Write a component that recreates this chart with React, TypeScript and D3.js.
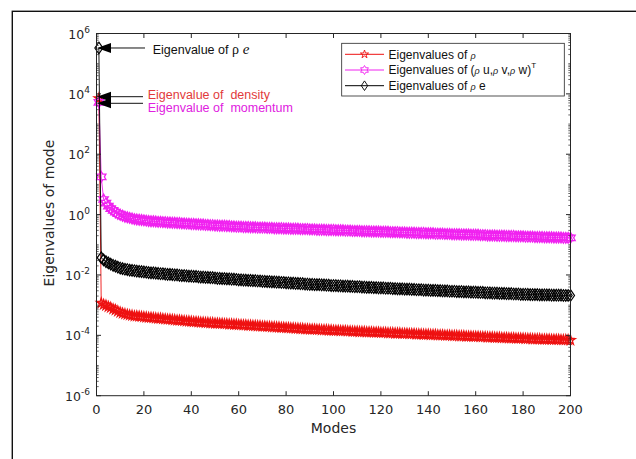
import React from "react";
import * as d3 from "d3";

// log10 of eigenvalues, modes 1..200
const rhoLog: number[] = [
  3.85,
  -2.93,-2.98,-3.01,-3.05,-3.08,-3.13,-3.16,-3.20,-3.24,
  -3.27,-3.29,-3.31,-3.33,-3.34,-3.36,-3.36,-3.37,-3.38,-3.39,
  -3.40,-3.41,-3.41,-3.42,-3.43,-3.44,-3.44,-3.45,-3.46,-3.47,
  -3.47,-3.48,-3.49,-3.50,-3.50,-3.51,-3.52,-3.53,-3.53,-3.54,
  -3.55,-3.55,-3.56,-3.57,-3.57,-3.58,-3.58,-3.59,-3.59,-3.60,
  -3.60,-3.61,-3.61,-3.62,-3.62,-3.63,-3.63,-3.64,-3.64,-3.65,
  -3.65,-3.66,-3.66,-3.67,-3.67,-3.68,-3.68,-3.69,-3.69,-3.70,
  -3.70,-3.71,-3.71,-3.72,-3.72,-3.73,-3.73,-3.74,-3.74,-3.75,
  -3.75,-3.76,-3.76,-3.77,-3.77,-3.78,-3.78,-3.79,-3.79,-3.80,
  -3.80,-3.80,-3.81,-3.81,-3.82,-3.82,-3.82,-3.83,-3.83,-3.84,
  -3.84,-3.84,-3.85,-3.85,-3.85,-3.86,-3.86,-3.87,-3.87,-3.87,
  -3.88,-3.88,-3.88,-3.89,-3.89,-3.89,-3.90,-3.90,-3.90,-3.91,
  -3.91,-3.91,-3.92,-3.92,-3.92,-3.93,-3.93,-3.93,-3.94,-3.94,
  -3.94,-3.95,-3.95,-3.95,-3.96,-3.96,-3.96,-3.97,-3.97,-3.97,
  -3.98,-3.98,-3.98,-3.99,-3.99,-3.99,-4.00,-4.00,-4.00,-4.01,
  -4.01,-4.01,-4.02,-4.02,-4.02,-4.03,-4.03,-4.03,-4.04,-4.04,
  -4.04,-4.05,-4.05,-4.05,-4.06,-4.06,-4.06,-4.07,-4.07,-4.07,
  -4.08,-4.08,-4.08,-4.09,-4.09,-4.09,-4.10,-4.10,-4.10,-4.10,
  -4.11,-4.11,-4.11,-4.12,-4.12,-4.12,-4.12,-4.13,-4.13,-4.13,
  -4.13,-4.14,-4.14,-4.14,-4.14,-4.15,-4.15,-4.15,-4.15,-4.16,
];

const momentumLog: number[] = [
  3.72,
  1.25,0.50,0.38,0.28,0.20,0.14,0.08,0.03,-0.01,
  -0.04,-0.07,-0.09,-0.11,-0.13,-0.15,-0.16,-0.17,-0.18,-0.19,
  -0.20,-0.21,-0.22,-0.22,-0.23,-0.24,-0.24,-0.25,-0.25,-0.26,
  -0.26,-0.27,-0.27,-0.28,-0.28,-0.29,-0.29,-0.30,-0.30,-0.31,
  -0.31,-0.32,-0.32,-0.33,-0.33,-0.34,-0.34,-0.35,-0.35,-0.36,
  -0.36,-0.37,-0.37,-0.37,-0.38,-0.38,-0.39,-0.39,-0.40,-0.40,
  -0.40,-0.41,-0.41,-0.41,-0.42,-0.42,-0.42,-0.43,-0.43,-0.43,
  -0.43,-0.44,-0.44,-0.44,-0.45,-0.45,-0.45,-0.45,-0.46,-0.46,
  -0.46,-0.47,-0.47,-0.47,-0.47,-0.48,-0.48,-0.48,-0.48,-0.49,
  -0.49,-0.49,-0.50,-0.50,-0.50,-0.50,-0.51,-0.51,-0.51,-0.51,
  -0.52,-0.52,-0.52,-0.52,-0.53,-0.53,-0.53,-0.54,-0.54,-0.54,
  -0.54,-0.55,-0.55,-0.55,-0.55,-0.56,-0.56,-0.56,-0.56,-0.57,
  -0.57,-0.57,-0.57,-0.58,-0.58,-0.58,-0.58,-0.59,-0.59,-0.59,
  -0.60,-0.60,-0.60,-0.60,-0.61,-0.61,-0.61,-0.61,-0.62,-0.62,
  -0.62,-0.62,-0.63,-0.63,-0.63,-0.63,-0.64,-0.64,-0.64,-0.65,
  -0.65,-0.65,-0.65,-0.66,-0.66,-0.66,-0.66,-0.67,-0.67,-0.67,
  -0.67,-0.68,-0.68,-0.68,-0.69,-0.69,-0.69,-0.69,-0.70,-0.70,
  -0.70,-0.70,-0.71,-0.71,-0.71,-0.71,-0.72,-0.72,-0.72,-0.72,
  -0.73,-0.73,-0.73,-0.73,-0.74,-0.74,-0.74,-0.74,-0.75,-0.75,
  -0.75,-0.75,-0.76,-0.76,-0.76,-0.76,-0.77,-0.77,-0.77,-0.77,
];

const energyLog: number[] = [
  5.52,
  -1.43,-1.50,-1.56,-1.60,-1.64,-1.68,-1.71,-1.74,-1.77,
  -1.79,-1.81,-1.82,-1.84,-1.85,-1.86,-1.87,-1.88,-1.89,-1.90,
  -1.91,-1.92,-1.93,-1.93,-1.94,-1.95,-1.96,-1.96,-1.97,-1.98,
  -1.98,-1.99,-2.00,-2.00,-2.01,-2.02,-2.02,-2.03,-2.04,-2.04,
  -2.05,-2.05,-2.06,-2.07,-2.07,-2.08,-2.08,-2.09,-2.09,-2.10,
  -2.11,-2.11,-2.12,-2.12,-2.13,-2.13,-2.14,-2.14,-2.15,-2.16,
  -2.16,-2.17,-2.17,-2.18,-2.18,-2.19,-2.19,-2.20,-2.20,-2.21,
  -2.21,-2.22,-2.22,-2.23,-2.23,-2.24,-2.24,-2.25,-2.25,-2.26,
  -2.26,-2.27,-2.27,-2.28,-2.28,-2.29,-2.29,-2.30,-2.30,-2.31,
  -2.31,-2.32,-2.32,-2.32,-2.33,-2.33,-2.34,-2.34,-2.35,-2.35,
  -2.35,-2.36,-2.36,-2.37,-2.37,-2.37,-2.38,-2.38,-2.39,-2.39,
  -2.39,-2.40,-2.40,-2.41,-2.41,-2.41,-2.42,-2.42,-2.43,-2.43,
  -2.43,-2.44,-2.44,-2.44,-2.45,-2.45,-2.46,-2.46,-2.46,-2.47,
  -2.47,-2.47,-2.48,-2.48,-2.49,-2.49,-2.49,-2.50,-2.50,-2.50,
  -2.51,-2.51,-2.51,-2.52,-2.52,-2.53,-2.53,-2.53,-2.54,-2.54,
  -2.54,-2.55,-2.55,-2.55,-2.56,-2.56,-2.56,-2.57,-2.57,-2.57,
  -2.58,-2.58,-2.58,-2.59,-2.59,-2.59,-2.60,-2.60,-2.60,-2.61,
  -2.61,-2.61,-2.62,-2.62,-2.62,-2.63,-2.63,-2.63,-2.64,-2.64,
  -2.64,-2.64,-2.65,-2.65,-2.65,-2.65,-2.66,-2.66,-2.66,-2.66,
  -2.66,-2.67,-2.67,-2.67,-2.67,-2.67,-2.68,-2.68,-2.68,-2.68,
];

const xTicks = [0, 20, 40, 60, 80, 100, 120, 140, 160, 180, 200];
const yTickExps = [-6, -4, -2, 0, 2, 4, 6];

const W = 636, H = 459;
const M = { left: 96.5, right: 570.5, top: 33.5, bottom: 395.7 };
const AX = "#262626";
const RED = "#ee1111";
const MAG = "#f022f0";

function starPath(r: number, points: number, inner: number) {
  const pts: string[] = [];
  for (let i = 0; i < points * 2; i++) {
    const rr = i % 2 === 0 ? r : r * inner;
    const a = -Math.PI / 2 + (i * Math.PI) / points;
    pts.push(`${(rr * Math.cos(a)).toFixed(2)},${(rr * Math.sin(a)).toFixed(2)}`);
  }
  return "M" + pts.join("L") + "Z";
}
const PENTA = starPath(5, 5, 0.382);
const HEXA = starPath(5.4, 6, 0.577);
const DIAM = "M0,-5.8L4,0L0,5.8L-4,0Z";
const PENTA_L = starPath(4.3, 5, 0.382);
const HEXA_L = starPath(4.5, 6, 0.577);
const DIAM_L = "M0,-4.8L3.2,0L0,4.8L-3.2,0Z";

export default function App() {
  const x = d3.scaleLinear().domain([0, 200]).range([M.left, M.right]);
  const y = d3.scaleLog().domain([1e-6, 1e6]).range([M.bottom, M.top]);

  const series = [
    { name: "rho", logs: rhoLog, color: RED, marker: PENTA, sw: 1.3 },
    { name: "mom", logs: momentumLog, color: MAG, marker: HEXA, sw: 1.3 },
    { name: "e", logs: energyLog, color: "#000", marker: DIAM, sw: 1.2 },
  ];

  const line = d3
    .line<[number, number]>()
    .x((d) => x(d[0]))
    .y((d) => y(d[1]));

  const minorTicks: number[] = [];
  for (let e = -6; e < 6; e++) {
    for (let k = 1; k < 10; k++) {
      if (k === 1 && e % 2 === 0) continue;
      minorTicks.push(k * Math.pow(10, e));
    }
  }

  const fontAx = "'DejaVu Sans', sans-serif";
  const fontTxt = "'Liberation Sans', Arial, sans-serif";

  const legendRows = [
    { color: RED, marker: PENTA_L },
    { color: MAG, marker: HEXA_L },
    { color: "#000", marker: DIAM_L },
  ];
  const lg = { x0: 341.7, y0: 43.3, x1: 564.3, y1: 96, rows: [54.3, 70, 85.7] };

  const arrows = [
    { y: y(Math.pow(10, 5.52)), end: 145 },
    { y: 96.7, end: 143 },
    { y: 103.3, end: 143 },
  ];

  return (
    <svg width={W} height={H} style={{ position: "absolute", left: 0, top: 0, background: "#fff" }}>
      <rect x={0} y={0} width={W} height={H} fill="#fff" />
      {/* outer frame */}
      <rect x={12.3} y={11.3} width={800} height={600} fill="none" stroke="#111" strokeWidth={1.4} />

      {/* data */}
      <g>
        {series.map((s) => {
          const pts: [number, number][] = s.logs.map((v, i) => [i + 1, Math.pow(10, v)]);
          return (
            <g key={s.name}>
              <path d={line(pts) || ""} fill="none" stroke={s.color} strokeWidth={0.9} />
              {pts.map((p, i) => (
                <path
                  key={i}
                  d={s.marker}
                  transform={`translate(${x(p[0])},${y(p[1])})`}
                  fill="none"
                  stroke={s.color}
                  strokeWidth={s.sw}
                />
              ))}
            </g>
          );
        })}
      </g>

      {/* axes box */}
      <rect x={M.left} y={M.top} width={M.right - M.left} height={M.bottom - M.top} fill="none" stroke={AX} strokeWidth={1} />
      {xTicks.map((t) => (
        <g key={"xt" + t}>
          <line x1={x(t)} x2={x(t)} y1={M.bottom} y2={M.bottom - 4.5} stroke={AX} />
          <line x1={x(t)} x2={x(t)} y1={M.top} y2={M.top + 4.5} stroke={AX} />
          <text x={x(t)} y={414} textAnchor="middle" fontFamily={fontAx} fontSize={13} fill={AX}>
            {t}
          </text>
        </g>
      ))}
      {yTickExps.map((e) => {
        const yy = y(Math.pow(10, e));
        return (
          <g key={"yt" + e}>
            <line x1={M.left} x2={M.left + 4.5} y1={yy} y2={yy} stroke={AX} />
            <line x1={M.right} x2={M.right - 4.5} y1={yy} y2={yy} stroke={AX} />
            <text x={90} y={yy + 5} textAnchor="end" fontFamily={fontAx} fontSize={12.5} fill={AX}>
              10
              <tspan dy={-6} fontSize={9}>{e}</tspan>
            </text>
          </g>
        );
      })}
      {minorTicks.map((v, i) => {
        const yy = y(v);
        return (
          <g key={"mt" + i}>
            <line x1={M.left} x2={M.left + 2.2} y1={yy} y2={yy} stroke={AX} strokeWidth={0.7} />
            <line x1={M.right} x2={M.right - 2.2} y1={yy} y2={yy} stroke={AX} strokeWidth={0.7} />
          </g>
        );
      })}

      {/* axis labels */}
      <text x={333.5} y={433} textAnchor="middle" fontFamily={fontAx} fontSize={14} fill={AX}>
        Modes
      </text>
      <text
        transform={`translate(54,213) rotate(-90)`}
        textAnchor="middle"
        fontFamily={fontAx}
        fontSize={14}
        fill={AX}
      >
        Eigenvalues of mode
      </text>

      {/* annotations */}
      {arrows.map((a, i) => (
        <g key={"ar" + i}>
          <line x1={109} x2={a.end} y1={a.y} y2={a.y} stroke="#111" strokeWidth={1} />
          <path d={`M97,${a.y}L111,${a.y - 5}L111,${a.y + 5}Z`} fill="#000" />
        </g>
      ))}
      <text x={152.7} y={53.5} fontFamily={fontTxt} fontSize={12.5} fill="#111">
        Eigenvalue of{" "}
        <tspan fontFamily="'Liberation Serif', serif" fontSize={14}>ρ</tspan>
        <tspan fontFamily="'Liberation Serif', serif" fontStyle="italic" fontSize={15}> e</tspan>
      </text>
      <text x={147.7} y={98.5} fontFamily={fontTxt} fontSize={12.5} fill="#e23a3a" style={{ whiteSpace: "pre" }}>
        {"Eigenvalue of  density"}
      </text>
      <text x={147.7} y={111.5} fontFamily={fontTxt} fontSize={12.5} fill="#e020e0" style={{ whiteSpace: "pre" }}>
        {"Eigenvalue of  momentum"}
      </text>

      {/* legend */}
      <rect x={lg.x0} y={lg.y0} width={lg.x1 - lg.x0} height={lg.y1 - lg.y0} fill="#fff" stroke={AX} strokeWidth={0.8} />
      {legendRows.map((r, i) => (
        <g key={"lg" + i}>
          <line x1={345} x2={384} y1={lg.rows[i]} y2={lg.rows[i]} stroke={r.color} strokeWidth={1} />
          <path d={r.marker} transform={`translate(364.5,${lg.rows[i]})`} fill="none" stroke={r.color} strokeWidth={0.9} />
        </g>
      ))}
      <text x={388.5} y={lg.rows[0] + 4.3} fontFamily={fontTxt} fontSize={12} fill="#111">
        Eigenvalues of <tspan fontSize={9} fontStyle="italic">ρ</tspan>
      </text>
      <text x={388.5} y={lg.rows[1] + 4.3} fontFamily={fontTxt} fontSize={12} fill="#111">
        Eigenvalues of (<tspan fontSize={9} fontStyle="italic">ρ</tspan> u,<tspan fontSize={9} fontStyle="italic">ρ</tspan> v,<tspan fontSize={9} fontStyle="italic">ρ</tspan> w)
        <tspan dy={-6} fontSize={8}>T</tspan>
      </text>
      <text x={388.5} y={lg.rows[2] + 4.3} fontFamily={fontTxt} fontSize={12} fill="#111">
        Eigenvalues of <tspan fontSize={9} fontStyle="italic">ρ</tspan> e
      </text>
    </svg>
  );
}
